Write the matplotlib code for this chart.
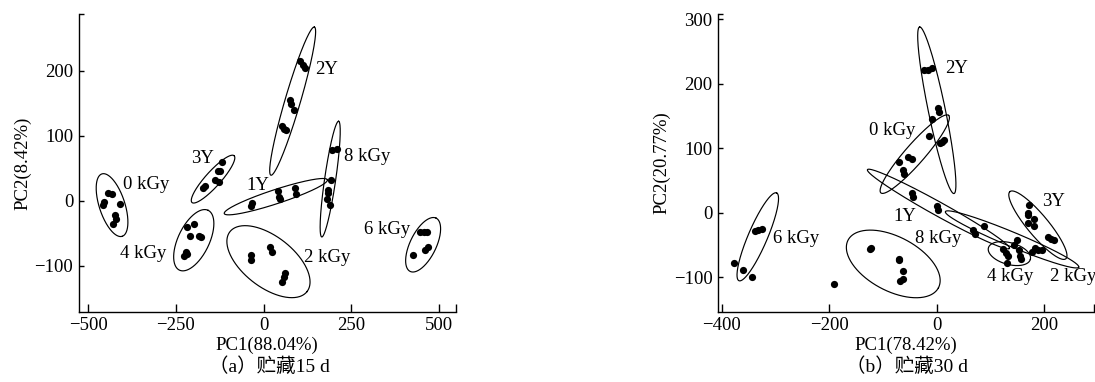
import matplotlib
matplotlib.use('Agg')
import matplotlib.pyplot as plt
import numpy as np
from matplotlib.ticker import FixedLocator

plt.rcParams['font.family'] = ['Liberation Serif', 'Noto Sans CJK SC']

# ---- (a) 贮藏15 d : PCA 得分 ----
groups = ['0 kGy', '2 kGy', '4 kGy', '6 kGy', '8 kGy', '1Y', '2Y', '3Y']

a_x = {
    '0 kGy': [-444, -432, -456, -458, -410, -423, -420, -429],
    '2 kGy': [-36, -36, 19, 24, 62, 57, 52],
    '4 kGy': [-217, -199, -209, -178, -185, -220, -226, -218],
    '6 kGy': [446, 458, 467, 470, 461, 427],
    '8 kGy': [195, 209, 193, 185, 181, 190, 185],
    '1Y': [-33, -36, 40, 43, 46, 90, 93],
    '2Y': [105, 112, 119, 76, 79, 86, 52, 59, 65],
    '3Y': [-119, -131, -123, -138, -128, -166, -173],
}
a_y = {
    '0 kGy': [11, 10, -2, -7, -6, -22, -29, -36],
    '2 kGy': [-84, -92, -71, -79, -111, -118, -126],
    '4 kGy': [-40, -36, -54, -56, -55, -79, -86, -82],
    '6 kGy': [-48, -48, -48, -71, -76, -84],
    '8 kGy': [78, 79, 32, 12, 2, -7, 17],
    '1Y': [-3, -9, 14, 6, 2, 19, 10],
    '2Y': [215, 209, 204, 155, 149, 139, 115, 110, 108],
    '3Y': [59, 45, 46, 32, 29, 23, 19],
}
# ellipse: centre x, centre y, end of major axis x, y, minor/major ratio
a_ell = {
    '0 kGy': (-432, -7, -403, -55, 0.39),
    '2 kGy': (14, -94, 124, -140, 0.52),
    '4 kGy': (-199, -61, -158, -15, 0.47),
    '6 kGy': (455, -68, 492, -27, 0.44),
    '8 kGy': (190, 33, 214, 122, 0.095),
    '1Y': (35, 6, 182, 32, 0.13),
    '2Y': (83, 153, 145, 267, 0.10),
    '3Y': (-144, 33, -84, 69, 0.24),
}
a_lab = {
    '0 kGy': (-401, 24), '2 kGy': (114, -87), '4 kGy': (-408, -82),
    '6 kGy': (287, -45), '8 kGy': (230, 68), '1Y': (-49, 23),
    '2Y': (147, 202), '3Y': (-206, 65),
}

# ---- (b) 贮藏30 d ----
b_x = {
    '0 kGy': [-70, -53, -47, -63, -61],
    '2 kGy': [143, 150, 177, 183, 189, 195],
    '4 kGy': [123, 128, 133, 130, 152, 154, 157],
    '6 kGy': [-338, -332, -326, -377, -361, -344],
    '8 kGy': [-125, -123, -71, -70, -63, -68, -62, -192],
    '1Y': [-47, -45, 0, 3, 68, 87, 71],
    '2Y': [-24, -16, -9, 3, 4, -9, -14, 6, 14, 9],
    '3Y': [172, 169, 170, 180, 170, 180, 206, 212, 218],
}
b_y = {
    '0 kGy': [79, 86, 83, 66, 60],
    '2 kGy': [-50, -42, -60, -55, -58, -57],
    '4 kGy': [-56, -62, -67, -78, -58, -67, -71],
    '6 kGy': [-28, -27, -25, -77, -89, -99],
    '8 kGy': [-56, -54, -71, -73, -90, -105, -102, -110],
    '1Y': [31, 25, 10, 5, -26, -21, -32],
    '2Y': [221, 222, 225, 162, 156, 146, 119, 108, 113, 110],
    '3Y': [13, 0, -4, -9, -16, -21, -38, -41, -42],
}
b_ell = {
    '0 kGy': (-41, 91, 22, 151, 0.19),
    '2 kGy': (140, -41, 264, -84, 0.10),
    '4 kGy': (135, -63, 174, -72, 0.50),
    '6 kGy': (-333, -37, -298, 31, 0.20),
    '8 kGy': (-81, -79, 3, -116, 0.53),
    '1Y': (3, 6, 135, -55, 0.085),
    '2Y': (0, 159, -32, 288, 0.10),
    '3Y': (188, -19, 136, 33, 0.24),
}
b_lab = {
    '0 kGy': (-127, 127), '2 kGy': (211, -99), '4 kGy': (93, -99),
    '6 kGy': (-304, -40), '8 kGy': (-40, -40), '1Y': (-81, -6),
    '2Y': (15, 224), '3Y': (195, 17),
}

fig = plt.figure(figsize=(10.95, 3.82), dpi=100)
ax1 = fig.add_axes([0.0719, 0.184, 0.3443, 0.7793])
ax2 = fig.add_axes([0.6557, 0.184, 0.3432, 0.7793])


def draw_ellipse(ax, cx, cy, tx, ty, ratio):
    # build the ellipse in screen space so it stays a true ellipse
    T = ax.transData
    c = T.transform((cx, cy))
    u = T.transform((tx, ty)) - c
    v = np.array([-u[1], u[0]]) * ratio
    th = np.linspace(0, 2 * np.pi, 300)
    pts = c + np.outer(np.cos(th), u) + np.outer(np.sin(th), v)
    d = T.inverted().transform(pts)
    ax.plot(d[:, 0], d[:, 1], color='black', lw=0.85)


def setup(ax, xlim, ylim, xt, yt, xlabel, ylabel):
    ax.set_xlim(*xlim)
    ax.set_ylim(*ylim)
    ax.set_xticks(xt)
    ax.set_yticks(yt)
    ax.xaxis.set_minor_locator(FixedLocator([xlim[1]]))
    ax.yaxis.set_minor_locator(FixedLocator([ylim[1]]))
    for s in ['top', 'right']:
        ax.spines[s].set_visible(False)
    for s in ['left', 'bottom']:
        ax.spines[s].set_linewidth(1.0)
    ax.tick_params(axis='x', which='both', direction='in', length=5.5, width=1.0,
                   labelsize=13.5, pad=4)
    ax.tick_params(axis='y', which='both', direction='in', length=3.5, width=1.0,
                   labelsize=13.5, pad=4)
    ax.set_xlabel(xlabel, fontsize=13.5, labelpad=2)
    ax.set_ylabel(ylabel, fontsize=13.5, labelpad=2)


setup(ax1, (-527, 548), (-171, 287), [-500, -250, 0, 250, 500], [-100, 0, 100, 200],
      'PC1(88.04%)', 'PC2(8.42%)')
setup(ax2, (-407, 292), (-153, 308), [-400, -200, 0, 200], [-100, 0, 100, 200, 300],
      'PC1(78.42%)', 'PC2(20.77%)')

for ax, xs, ys, ell, lab in [(ax1, a_x, a_y, a_ell, a_lab), (ax2, b_x, b_y, b_ell, b_lab)]:
    for g in groups:
        ax.plot(xs[g], ys[g], 'o', color='black', ms=5.2, mew=0, clip_on=False)
        draw_ellipse(ax, *ell[g])
        ax.text(lab[g][0], lab[g][1], g, fontsize=13.5, ha='left', va='center')

fig.text(0.246, 1 - 366.5 / 382, '（a）贮藏15 d', fontsize=14, ha='center', va='center')
fig.text(0.828, 1 - 366.5 / 382, '（b）贮藏30 d', fontsize=14, ha='center', va='center')

fig.savefig('out.png', dpi=100)
